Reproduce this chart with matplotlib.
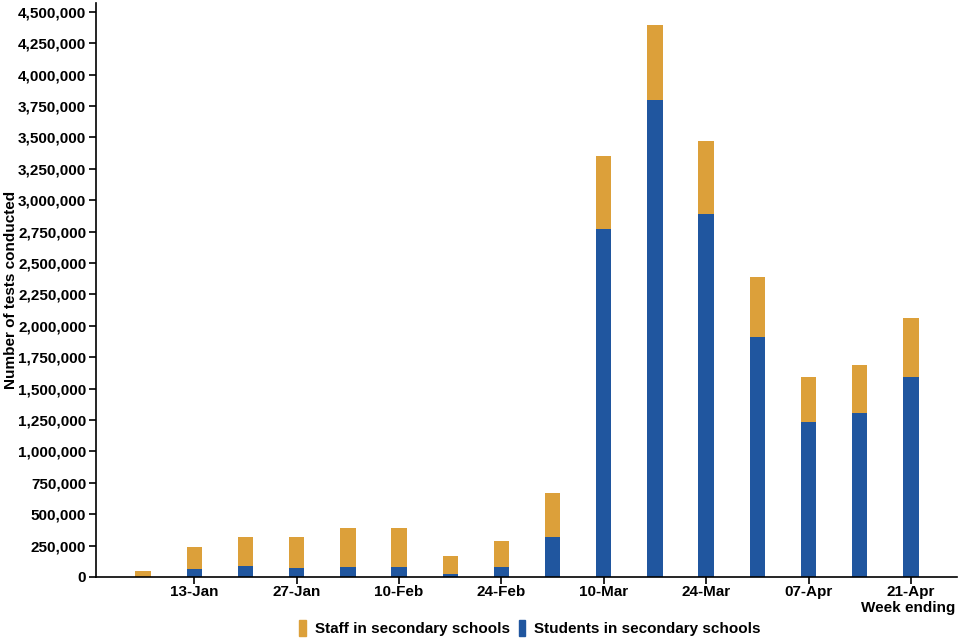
import numpy as np
import matplotlib.pyplot as plt
from matplotlib.patches import Rectangle
from matplotlib.ticker import FuncFormatter

plt.rcParams['font.family'] = ['Liberation Sans', 'DejaVu Sans']
plt.rcParams['font.weight'] = 'bold'

# Week ending dates (one bar per week)
weeks = ['06-Jan', '13-Jan', '20-Jan', '27-Jan', '03-Feb', '10-Feb', '17-Feb', '24-Feb',
         '03-Mar', '10-Mar', '17-Mar', '24-Mar', '31-Mar', '07-Apr', '14-Apr', '21-Apr']
# Tests conducted, students and staff in secondary schools
students = [3000, 64000, 90000, 74000, 80000, 77000, 24000, 80000,
            318000, 2774000, 3794000, 2888000, 1913000, 1238000, 1306000, 1592000]
staff = [42000, 172000, 226000, 246000, 310000, 315000, 141000, 206000,
         350000, 580000, 602000, 583000, 474000, 352000, 379000, 467000]
tick_labels = ['13-Jan', '27-Jan', '10-Feb', '24-Feb', '10-Mar', '24-Mar', '07-Apr', '21-Apr']

blue = '#20569f'
orange = '#dca03a'
fs = 11

fig = plt.figure(figsize=(9.6, 6.4), dpi=100)
ax = fig.add_axes([96 / 960, 1 - 577 / 640, (957 - 96) / 960, (577 - 3) / 640])

x = np.arange(len(weeks))
ax.bar(x, students, width=0.3, color=blue, label='Students in secondary schools')
ax.bar(x, staff, width=0.3, bottom=students, color=orange, label='Staff in secondary schools')

ax.set_xlim(-0.92, 15.9)
ax.set_ylim(0, 4570000)
ax.set_yticks(np.arange(0, 4500001, 250000))
ax.yaxis.set_major_formatter(FuncFormatter(lambda v, p: f'{int(v):,}'))

tick_pos = [weeks.index(t) for t in tick_labels]
ax.set_xticks(tick_pos)
ax.set_xticklabels(tick_labels)

for s in ['top', 'right']:
    ax.spines[s].set_visible(False)
for s in ['left', 'bottom']:
    ax.spines[s].set_linewidth(1.2)
ax.tick_params(axis='both', labelsize=fs, length=5, width=1.2, pad=2)
ax.tick_params(axis='x', pad=1)
for lab in ax.get_xticklabels() + ax.get_yticklabels():
    lab.set_fontweight('bold')

ax.set_ylabel('Number of tests conducted', fontsize=fs, fontweight='bold')
ax.yaxis.set_label_coords(-0.091, 0.5)
fig.text(908 / 960, 1 - 608 / 640, 'Week ending', ha='center', va='center',
         fontsize=fs, fontweight='bold')

handles = [Rectangle((0, 0), 1, 1, color=orange), Rectangle((0, 0), 1, 1, color=blue)]
fig.legend(handles, ['Staff in secondary schools', 'Students in secondary schools'],
           loc='center', bbox_to_anchor=(530 / 960, 1 - 628 / 640), ncol=2, frameon=False,
           handlelength=0.4, handleheight=1.3, handletextpad=0.6, columnspacing=0.6,
           prop={'size': fs, 'weight': 'bold'})

fig.savefig('out.png', dpi=100)
